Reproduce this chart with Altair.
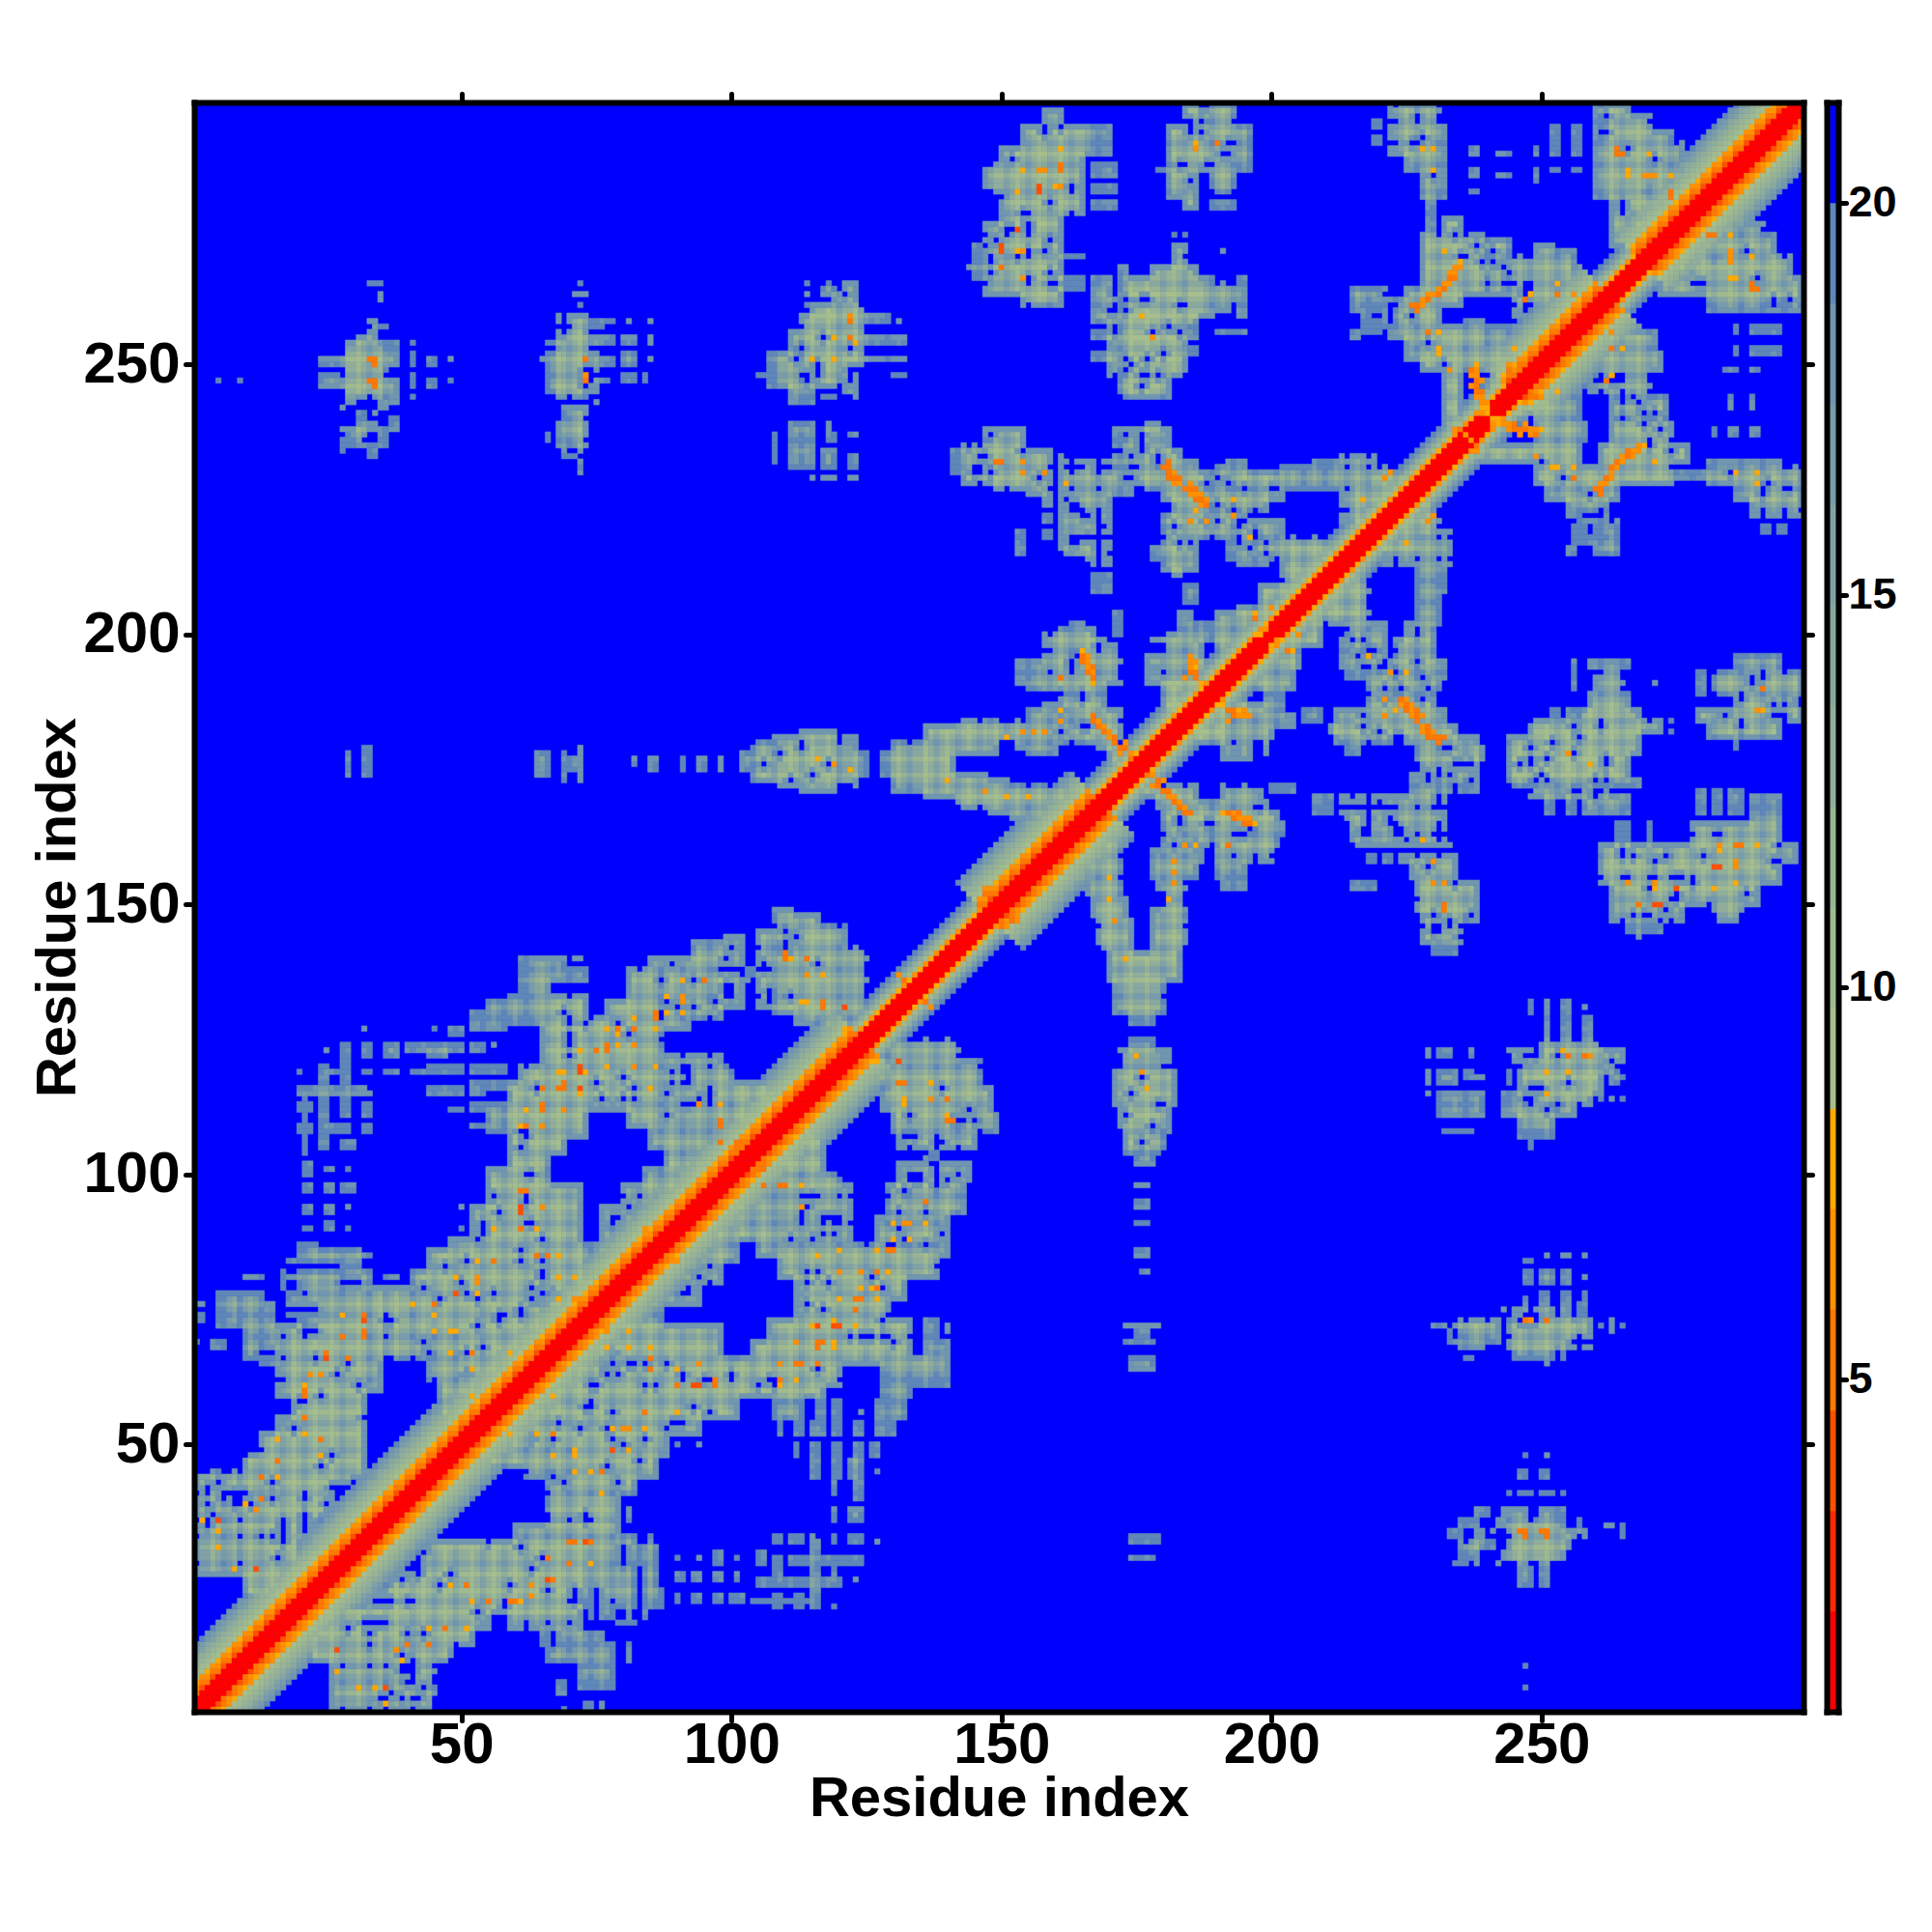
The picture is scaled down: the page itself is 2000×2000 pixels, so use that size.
import altair as alt
import numpy as np
import pandas as pd

alt.data_transformers.disable_max_rows()

# colour levels, bottom of the colour bar to the top
LEVEL_COLOURS = ["#ff0000", "#ff2a00", "#ff5000", "#ff7800", "#ff9000", "#ffaa00",
                 "#a6bf8c", "#a0ba90", "#98b495", "#90ae9a", "#88a89f", "#80a2a5",
                 "#789cab", "#7096b0", "#5f87b8", "#0000ff"]
LEVEL_EDGES = [0.757, 2.04, 3.32, 4.60, 5.89, 7.17, 8.45, 9.74, 11.02, 12.30, 13.59,
               14.87, 16.15, 17.43, 18.72, 20.0, 21.28]
BLUE = 15

# regions of the map right of the diagonal: (y0, y1, x0, x1, level); the map is symmetric
BLOB_NEAR_35 = [(48,48,247,247,13),(48,48,251,251,13),(44,45,246,247,13),(44,45,250,251,13),
 (41,41,244,244,13),(41,41,246,248,13),(41,41,250,252,13),(41,41,254,254,13),(37,38,238,240,13),
 (37,38,243,247,11),(37,38,250,251,11),(37,38,252,254,13),(35,36,235,238,13),(35,36,242,254,10),
 (35,36,257,257,13),(33,34,233,235,13),(33,34,238,241,11),(33,34,244,258,9),(31,32,235,239,11),
 (31,32,240,241,13),(31,32,244,255,9),(29,30,235,238,12),(29,30,243,254,9),(28,28,234,236,12),
 (28,28,238,254,11),(24,27,246,248,12),(24,27,250,251,12),(9,9,247,247,13),(5,5,247,247,13),
 (35,35,262,263,13),(33,35,265,265,12)]
BLOB_NEAR_72 = [(85,85,251,251,13),(85,85,254,255,13),(85,85,258,258,13),(84,84,247,248,13),
 (80,82,247,248,13),(80,82,250,252,13),(80,82,254,255,13),(81,81,258,258,13),(77,78,250,251,13),
 (77,78,254,255,13),(77,78,258,258,13),(75,77,247,247,13),(75,77,250,251,13),(75,77,254,255,13),
 (75,76,257,258,13),(74,75,243,249,11),(74,75,250,255,11),(74,75,257,258,12),(73,73,235,242,11),
 (73,73,244,245,10),(73,73,250,259,10),(72,72,230,232,13),(72,72,234,242,10),(72,72,244,259,9),
 (72,72,261,261,13),(71,73,263,263,13),(72,72,265,265,13),(70,71,233,233,13),(70,71,235,242,10),
 (70,71,244,259,9),(69,69,233,234,13),(69,69,235,239,11),(69,69,240,242,13),(69,69,244,255,9),
 (68,68,235,239,12),(68,68,244,256,10),(68,68,258,259,13),(66,67,245,248,12),(66,67,249,252,12),
 (66,67,254,254,13),(66,66,236,237,13),(65,65,251,251,13)]
BLOB_NEAR_118 = [(130,132,248,248,13),(130,132,251,251,13),(130,132,254,255,13),(131,131,258,258,13),
 (125,129,251,251,13),(125,129,254,255,12),(125,129,258,259,12),(123,125,250,261,11),
 (121,123,244,248,11),(121,123,250,265,9),(119,121,247,263,9),(117,119,244,244,13),(117,119,246,261,8),
 (117,119,263,264,12),(118,118,265,265,13),(115,117,246,261,9),(113,115,243,246,12),(113,115,249,259,9),
 (114,114,261,261,13),(114,114,263,263,13),(114,114,265,265,13),(111,113,243,256,10),(109,110,246,252,10),
 (107,108,246,250,12),(107,108,251,252,12),(106,106,248,248,13),(105,105,248,248,13)]
SPARSE_NEAR_115 = [(122,123,229,229,13),(122,123,231,232,13),(122,123,233,233,13),(122,123,237,237,13),
 (117,119,229,229,13),(117,119,231,234,12),(118,119,236,237,13),(118,118,238,239,13),(113,115,231,239,12),
 (115,115,229,229,13),(111,112,231,239,12),(108,108,232,237,13)]
COLUMN_176 = [(124,125,174,178,13),(119,123,172,181,11),(113,119,171,182,9),(108,113,172,181,9),
 (104,108,173,180,10),(102,104,175,178,12),(98,98,175,177,13),(94,95,175,177,13),(91,91,175,177,13),
 (85,86,175,177,13),(82,82,176,177,13),(72,72,173,179,12),(69,71,175,177,12),(69,69,173,178,13),
 (64,66,174,178,12),(32,33,174,179,13),(29,29,174,178,13)]
RIGHT_COLUMN = [(224,224,225,231,10),(220,223,225,231,11),(213,219,221,233,11),(208,212,212,218,11),
 (208,212,227,232,12),(202,207,210,218,11),(202,207,227,231,12),(200,202,214,221,10),(200,202,225,230,10),
 (196,199,213,221,10),(196,199,223,230,10),(194,195,213,220,11),(194,195,222,232,10),(192,193,214,220,12),
 (192,193,218,232,10),(190,191,218,231,10),(187,189,218,230,10),(184,186,206,209,12),(184,186,212,232,9),
 (182,183,211,234,9),(180,181,212,222,10),(180,181,225,238,9),(178,179,214,216,13),(177,179,227,239,10),
 (175,176,228,238,11),(171,174,226,238,10),(167,170,208,211,13),(167,170,213,232,11),(162,166,214,232,11),
 (161,161,216,233,11),(158,159,218,219,13),(158,159,221,222,13),(158,159,224,234,9),(155,157,226,234,9),
 (153,154,215,219,13),(149,154,227,238,9),(147,148,228,238,10),(143,146,228,235,11),(141,142,230,234,12)]
BLOB_NEAR_255_175 = [(194,195,256,256,13),(194,195,259,266,12),(190,193,256,256,13),(190,193,260,265,11),
 (191,191,271,271,13),(187,189,259,266,10),(185,186,252,253,12),(185,186,255,257,12),(185,186,258,268,8),
 (182,184,248,272,9),(178,181,244,268,8),(174,177,244,266,8),(172,173,244,268,10),(170,171,248,266,11),
 (167,169,251,252,13),(167,169,255,256,13),(167,169,258,266,10),(184,184,274,274,13),(182,182,274,274,13)]
BLOB_NEAR_290_188 = [(194,196,286,294,12),(189,193,279,280,13),(189,193,282,298,10),(187,188,286,297,10),
 (184,186,279,298,9),(181,183,281,294,10),(179,180,286,286,13)]
BLOB_NEAR_275_155 = [(167,171,279,280,13),(167,171,282,283,13),(167,171,285,287,13),(166,170,289,294,13),
 (162,165,264,266,13),(162,165,270,270,13),(162,165,278,294,9),(160,161,261,297,9),(158,159,261,297,8),
 (154,157,261,294,9),(150,153,263,290,9),(147,149,263,276,11),(147,149,282,287,11),(145,146,266,272,12),
 (144,144,268,268,13)]
MIDDLE_ARMS = [(170,172,176,186,9),(170,172,191,198,11),(171,172,200,204,12),(168,169,179,188,9),
 (168,169,189,200,10),(166,167,180,201,9),(163,165,180,202,10),(161,162,180,201,10),(158,160,178,187,10),
 (158,160,189,200,11),(155,157,178,186,10),(155,157,190,195,12),(153,154,179,184,11),(153,154,191,195,12),
 (150,152,180,184,11),(158,165,166,172,10),(152,157,166,172,10),(148,151,167,173,9),(148,149,178,184,10),
 (142,147,168,174,9),(142,147,178,184,9),(136,141,170,183,9),(130,135,171,180,10),(128,129,174,178,12),
 (180,187,184,198,8),(177,179,191,196,11),(198,203,198,209,9),(194,198,192,205,10),(190,193,192,204,10),
 (186,189,192,195,11),(186,189,199,202,12),(183,185,192,204,10),(180,182,192,200,11),(178,179,194,194,13),
 (178,179,199,199,13),(204,210,205,216,9),(219,227,216,229,9)]
UPPER_RIGHT = [(275,279,281,291,11),(271,274,276,293,10),(267,270,274,296,9),(263,266,272,298,9),
 (260,262,281,298,10),(256,257,286,286,13),(256,257,289,294,13),(252,253,286,286,13),(252,253,289,294,13),
 (249,249,284,286,13),(249,249,289,290,13),(242,244,285,285,13),(242,244,289,289,13),(237,238,282,282,13),
 (237,238,285,286,13),(237,238,289,290,13),(257,262,263,266,11),(253,256,262,271,10),(249,252,261,272,10),
 (245,248,259,270,11),(240,244,253,257,12),(240,244,263,273,10),(236,239,249,258,10),(236,239,263,274,9),
 (232,235,238,257,9),(232,235,261,277,9),(228,231,249,274,9),(229,230,275,280,13),(228,232,281,294,10),
 (228,231,295,298,11),(225,227,251,264,10),(225,227,286,298,10),(222,224,255,262,10),(222,224,289,298,11),
 (219,220,291,292,12),(219,220,294,295,12),(217,221,256,264,12),(215,216,255,256,13),(215,216,260,264,12),
 (240,245,244,253,9)]
LOWER_MIDDLE = [(122,125,129,142,11),(117,121,127,146,10),(112,116,128,148,9),(108,111,130,149,10),
 (105,107,131,145,11),(103,104,136,138,12),(99,102,131,144,11),(93,98,129,143,10),(93,98,105,122,10),
 (88,92,109,122,11),(88,92,127,140,10),(85,87,105,140,10),(81,84,109,138,9),(77,80,112,132,9),
 (74,76,112,129,9),(70,73,107,133,9),(70,73,136,138,13),(71,72,140,140,13),(67,69,104,133,9),
 (67,69,136,138,12),(67,69,139,140,13),(65,66,72,140,9),(61,64,72,120,9),(61,64,128,140,12),(59,60,72,117,9),
 (59,60,128,133,12),(55,58,72,101,9),(55,58,108,113,12),(55,58,116,117,13),(55,58,119,120,13),(56,56,124,124,13),
 (55,58,127,132,13),(52,54,72,94,9),(52,54,109,109,13),(52,54,112,113,12),(52,54,115,117,12),(52,54,119,120,12),
 (52,54,123,124,12),(52,54,127,130,12),(48,51,72,88,9),(50,50,90,90,13),(50,50,94,94,13),(48,50,112,112,13),
 (48,50,115,116,12),(48,50,119,120,12),(48,50,123,124,12),(48,50,126,127,12),(44,47,72,86,9),(44,47,115,116,13),
 (44,47,119,120,12),(44,47,122,124,12),(45,45,127,127,13),(41,43,72,82,10),(41,43,119,119,13),(40,43,123,124,12),
 (34,40,72,79,9),(36,38,81,81,13),(36,38,119,119,13),(36,38,122,124,12),(32,33,72,82,10),(32,33,85,85,12),
 (32,33,108,109,13),(32,33,111,113,12),(32,33,115,116,11),(32,33,119,119,13),(32,33,122,124,12),(32,32,127,127,13),
 (28,31,72,79,10),(28,31,81,86,12),(29,29,90,90,13),(29,29,94,94,13),(28,30,97,98,13),(29,29,101,101,13),
 (28,30,105,106,13),(28,29,108,109,12),(28,29,111,124,12),(30,31,115,116,12),(24,27,72,79,11),
 (24,27,80,82,12),(24,27,84,86,12),(25,26,90,91,13),(25,26,93,94,13),(25,26,97,98,13),(25,26,101,101,13),
 (24,25,105,120,12),(26,27,108,109,13),(26,27,115,116,12),(26,27,119,119,13),(25,25,123,123,13),
 (20,23,72,74,12),(20,23,76,82,12),(20,23,84,87,12),(21,22,90,90,13),
 (21,22,93,94,13),(21,22,97,98,13),(21,22,100,102,13),(21,21,104,116,12),(20,22,108,109,13),(20,22,112,113,13),
 (20,23,115,116,12),(20,20,119,119,13),(18,19,74,74,13),
 (18,19,76,78,13),(18,19,81,81,13),(18,19,84,84,13),(17,17,79,82,13),(10,13,73,78,12),(10,13,81,81,13),
 (5,9,72,78,12),(1,2,73,74,12),(1,2,76,76,13)]
LOWER_LEFT = [(101,108,90,117,9),(98,100,102,120,10),(93,97,101,122,11),(88,92,95,108,10),(84,87,92,101,10),
 (80,83,90,98,11),(76,79,85,94,11),(73,75,80,87,12),(67,72,75,98,9),(66,66,100,101,12),(62,66,48,72,9),
 (58,61,52,72,9),(54,57,64,72,9),(50,53,57,72,9),(46,49,53,72,10),(44,45,62,72,10),(42,43,66,72,10),
 (38,41,66,72,10),(36,37,66,72,11),(33,35,60,72,10),(30,32,44,72,9),(27,29,43,72,9),(24,26,37,72,9),
 (21,23,33,70,9),(21,23,76,81,11),(19,20,25,72,9),(16,18,24,55,9),(16,18,58,72,11),(13,15,19,52,9),
 (13,15,65,66,12),(13,15,68,76,12),(10,12,16,48,10),(10,12,66,76,12),(7,9,26,45,11),(4,6,26,45,10),
 (4,6,68,69,13),(1,3,26,45,11),(1,1,69,69,13),(1,1,73,74,13),(1,1,76,76,13)]

# blue cells inside the regions: (x, y)
HOLES = [(107,98),(114,94),(115,96),(118,92),(119,92),(117,92),(113,92),(111,88),(115,88),(117,89),(119,89),
 (114,82),(116,82),(114,80),(118,80),(114,76),(117,75),(128,73),(130,75),(122,70),(124,70),(125,70),(126,70),
 (128,70),(130,69),(116,64),(105,61),(107,62),(108,61),(128,79),(126,81),(130,87),(132,88),(136,87),(131,90),
 (136,93),(139,89),(131,93),(132,97),(135,99),(134,99),(138,98),(140,99),(138,102),(84,76),(80,75),(80,77),
 (77,80),(75,80),(76,84),(93,87),(94,85),(93,83),(89,81),(94,81),(90,78),(92,79),(78,65),(76,65),(81,65),
 (84,65),(88,65),(91,63),(95,62),(100,63),(84,61),(86,61),(75,61),(79,63),(78,56),(96,56),(93,57),(77,53),
 (80,50),(78,51),(84,51),(77,46),(83,47),(79,43),(89,54),(90,54),(91,54),(88,53),(73,36),(73,37),(77,63),(78,67),
 (82,65),(76,65),(74,61),(75,61),(73,57),(74,57),(68,54),(72,53),(63,51),(67,51),(83,47),(67,44),(69,43),
 (73,36),(61,31),(55,32),(65,29),(63,27),(39,25),(42,26),(48,26),(46,24),(59,24),(66,23),(34,21),(35,21),(36,21),
 (37,21),(40,21),(32,17),(33,17),(34,17),(35,17),(36,17),(29,16),(33,15),(40,15),(43,15),(33,13),(39,11),(41,10),
 (22,10),(19,11),(48,10),(51,9),(39,8),(40,8),(41,8),(40,6),(43,5),(37,4),(42,3),(39,3),(35,3),(58,20),(53,19),
 (58,18),(215,199),(217,199),(218,197),(219,197),(216,196),(222,196),(227,200),(227,195),(217,194),(220,194),
 (223,193),(228,192),(221,190),(224,190),(229,190),(221,188),(228,188),(217,185),(217,183),(220,182),(232,179),
 (233,179),(234,176),(235,176),(237,176),(229,173),(229,174),(231,174),(233,174),(237,173),(234,171),(234,172),
 (231,170),(230,168),(215,170),(215,171),(218,170),(220,169),(221,168),(216,168),(217,168),(218,168),(218,166),
 (222,165),(222,166),(223,164),(224,164),(217,163),(217,164),(231,163),(231,164),(225,162),(229,157),(234,154),
 (230,148),(237,148),(230,145),(233,147),(235,144),(252,180),(256,183),(261,183),(257,181),(256,178),(248,179),
 (246,176),(248,176),(248,177),(251,177),(260,173),(262,173),(262,176),(262,177),(250,174),(249,173),(251,173),
 (263,171),(264,171),(266,171),(256,171),(260,171),(260,170),(266,155),(271,155),(273,159),(271,158),(265,159),
 (265,160),(267,159),(275,155),(276,155),(270,153),(275,151),(275,152),(273,149),(267,148),(269,148),(272,147),
 (278,154),(280,159),(281,150),(288,152),(293,158),(294,158),(283,163),(294,161),(287,188),(289,191),(289,192),
 (291,192),(293,185),(294,185),(295,185),(284,185),(287,183),(293,187),(295,187),(248,116),(249,116),(250,116),
 (255,117),(253,113),(251,112),(249,122),(247,122),(253,122),(263,121),(128,116),(133,111),(139,116),(141,110),
 (142,110),(143,110),(138,106),(139,106),(134,107),(132,107),(145,110),(144,112),(136,104),(137,102),(138,102),
 (200,168),(198,168),(200,169),(196,164),(194,163),(195,163),(188,165),(189,165),(183,165),(183,166),(182,161),
 (186,161),(189,161),(187,157),(279,273),(280,273),(277,271),(282,270),(288,271),(275,266),(275,267),(277,267),
 (279,265),(280,265),(290,266),(293,261),(293,262),(296,262),(284,277),(285,277),(286,277),(288,277),(289,277),
 (290,277),(263,260),(259,247),(260,247),(263,247),(264,247),(265,243),(265,244),(267,244),(268,243),(269,241),
 (269,239),(265,240),(271,241),(272,238),(270,235),(274,234),(250,232),(254,229),(258,232),(259,226),(248,231),
 (285,230),(292,228),(291,226),(296,227),(258,222),(259,222),(260,222),(256,221),(261,222),(263,221),(263,222),
 (259,219),(259,220),(176,118),(174,115),(179,113),(173,111),(178,109),(176,106)]

# residues whose rows and columns read greener or steelier across the map
GREEN_RESIDUES = [4,8,11,15,19,23,26,31,35,38,43,47,52,56,60,64,68,72,76,81,85,89,94,98,102,106,111,115,118,123,
 127,131,136,140,144,149,153,157,161,166,170,174,177,182,187,191,195,199,204,208,212,216,221,225,229,234,238,242,
 246,251,255,259,263,268,272,276,280,285,289,293,297]
STEEL_RESIDUES = [6,9,13,17,21,28,33,36,41,45,49,54,58,62,66,70,74,78,83,87,91,96,100,104,108,113,120,125,129,133,
 138,142,146,151,155,159,163,168,172,180,184,189,193,197,201,206,210,214,218,223,227,231,236,240,244,248,253,257,
 261,265,270,274,278,282,287,291,295]

# width of the diagonal band, by offset from the diagonal, for odd and even residues
WIDE_ODD = [0,0,0,3,4,5,6,7,8,9,10,12,13]
WIDE_EVEN = [0,0,0,2,3,4,6,7,8,9,11,12,14]
THIN_ODD = [0,0,0,5,7,9,12,14]
THIN_EVEN = [0,0,0,4,7,9,12,14]
BAND_SEGMENTS = [(1,124,"wide"),(125,147,"thin"),(148,168,"wide"),(169,244,"thin"),
                 (245,262,"wide"),(263,268,"thin"),(269,298,"wide")]

# single cells that stand out: (x, y, level)
HOT = [(70,32,3),(71,32,3),(73,32,3),(74,32,3),(66,29,3),(70,28,3),(74,28,5),(66,25,2),(67,25,3),(63,24,4),(59,21,3),
 (60,21,3),(61,21,5),(63,22,4),(52,21,5),(55,21,3),(48,24,5),(51,24,3),(44,13,3),(40,13,3),(38,12,4),(39,10,5),
 (27,12,2),(27,8,5),(36,5,2),(34,5,5),(31,5,5),(36,2,5),(47,16,3),(51,16,5),(44,16,5),(80,53,4),(84,53,5),(78,49,2),
 (81,49,5),(71,48,5),(71,49,5),(67,48,5),(76,45,3),(71,45,5),(74,45,5),(76,41,5),(84,56,3),(85,68,5),(85,66,3),(77,68,5),
 (81,68,5),(59,67,5),(48,67,5),(52,67,3),(59,52,5),(64,52,5),(67,52,3),(68,77,5),(71,81,5),(68,81,5),(109,98,3),(110,98,3),
 (106,98,3),(113,98,5),(113,94,4),(136,95,3),(130,91,5),(132,91,4),(133,91,4),(136,91,5),(133,88,5),(130,88,5),(129,86,3),
 (130,86,3),(127,86,5),(120,86,5),(116,85,5),(120,82,4),(124,82,4),(127,82,3),(129,82,5),(124,79,5),(126,79,5),(127,79,3),
 (123,77,3),(124,77,3),(120,77,5),(127,77,5),(123,75,3),(116,72,2),(115,72,5),(119,72,2),(120,72,2),(119,73,5),(123,72,5),
 (116,69,3),(117,69,3),(116,68,3),(119,68,5),(119,69,5),(112,69,4),(112,65,3),(113,65,3),(116,65,3),(109,65,4),(109,62,3),
 (109,61,5),(112,62,5),(97,61,3),(97,62,3),(93,61,2),(94,61,2),(90,61,3),(85,64,3),(90,64,5),(94,65,4),(84,56,3),(90,56,5),
 (81,53,4),(78,53,5),(76,45,3),(73,32,2),(74,28,5),(77,71,4),(81,71,5),(90,84,4),(131,117,3),(132,117,3),(127,121,5),
 (131,121,2),(137,117,5),(137,114,4),(140,114,3),(132,113,5),(132,114,5),(140,110,3),(141,110,3),(140,111,5),(105,101,3),
 (106,101,3),(105,102,3),(152,147,3),(153,147,4),(136,132,3),(137,131,4),(246,34,3),(247,34,3),(247,33,3),(250,34,3),
 (251,33,3),(251,34,3),(247,73,3),(248,73,4),(251,73,3),(254,123,5),(255,122,3),(258,122,3),(259,122,4),(251,119,5),
 (255,119,5),(251,115,5),(176,119,4),(177,116,5),(175,122,5),(218,196,5),(222,193,4),(225,193,5),(221,185,4),(228,162,5),
 (230,158,4),(230,154,4),(232,154,4),(232,150,3),(232,149,3),(224,188,3),(225,187,3),(226,186,4),(227,185,3),(228,183,4),
 (229,182,3),(230,181,3),(231,180,3),(232,181,3),(223,186,5),(221,188,4),(192,186,3),(193,185,3),(194,186,5),(195,185,4),
 (192,184,4),(177,174,3),(179,173,3),(180,171,3),(181,170,4),(182,169,3),(183,168,3),(184,167,3),(178,172,4),(192,167,3),
 (193,166,3),(194,166,4),(195,165,3),(196,165,3),(184,161,4),(186,161,5),(192,161,3),(170,155,5),(170,151,5),(171,147,4),
 (173,140,5),(182,158,4),(182,156,4),(182,154,4),(181,151,5),(255,178,4),(259,176,5),(291,190,3),(290,186,4),(291,186,5),
 (266,154,4),(271,154,4),(271,153,5),(275,153,2),(268,150,3),(271,150,2),(272,150,2),(283,161,4),(283,160,5),(286,161,3),
 (287,161,3),(290,161,5),(282,157,2),(283,157,2),(286,157,4),(286,158,4),(282,153,5),(286,154,5),(281,274,3),(282,274,3),
 (285,274,5),(285,271,4),(285,270,4),(285,269,4),(289,270,5),(285,266,5),(286,266,5),(289,265,3),(289,264,3),(290,264,3),
 (263,256,4),(263,253,3),(265,253,5),(268,235,4),(267,233,4),(266,233,3),(265,232,4),(263,231,3),(263,230,4),(262,229,3),
 (261,228,4),(260,227,3),(261,226,3),(271,232,5),(252,231,5),(253,231,5),(256,231,5),(256,229,3),(286,230,5),(290,230,5),
 (290,228,5),(243,239,4),(244,238,4),(245,238,3),(246,238,3),(247,239,4),(248,237,4),(249,237,3),(250,238,5),(238,241,4),
 (239,241,4),(237,236,4),(238,235,3),(238,234,4),(249,246,3),(249,244,3),(250,244,4),(253,245,5),(249,233,4),(262,247,3),
 (263,248,5),(200,198,5),(201,199,4),(203,197,3),(199,196,4),(204,197,5),(205,200,4),(229,221,4),(230,222,4),(225,217,5)]
# the thick orange streaks that leave the diagonal
STREAK_CELLS = [(178,174,4),(180,173,4),(181,171,3),(182,170,4),(183,169,4),(184,168,4),(185,167,3),(179,172,3),
 (225,188,4),(226,187,4),(227,186,3),(228,185,4),(229,183,3),(230,182,4),(231,181,3),(224,187,4),(225,186,3),
 (226,185,4),(227,184,3),(228,182,4),(229,181,3),(193,167,4),(194,167,3),(195,166,4),(196,166,4),(197,165,5),
 (191,167,5),(193,186,3),(194,185,4),(196,185,4),(195,186,4),(191,187,5),(190,187,5),(267,234,4),(266,234,3),
 (265,233,4),(264,232,3),(264,231,4),(263,229,4),(262,228,4),(261,227,3),(268,234,4),(269,235,5),(244,239,4),
 (245,239,3),(246,237,4),(247,238,3),(248,238,4),(249,238,4),(242,240,5),(241,240,5)]

TICKS = [50, 100, 150, 200, 250]
BAR_TICKS = [5, 10, 15, 20]
TITLE = "Residue index"
FONT = "Liberation Sans"

N = 298
grid = np.full((N + 2, N + 2), BLUE, dtype=int)   # one spare line on each side, indexed by residue

regions = (BLOB_NEAR_35 + BLOB_NEAR_72 + BLOB_NEAR_118 + SPARSE_NEAR_115 + COLUMN_176 + RIGHT_COLUMN
           + BLOB_NEAR_255_175 + BLOB_NEAR_290_188 + BLOB_NEAR_275_155 + MIDDLE_ARMS + UPPER_RIGHT
           + LOWER_MIDDLE + LOWER_LEFT)
for y0, y1, x0, x1, lv in regions:
    grid[y0:y1 + 1, x0:x1 + 1] = lv
    grid[x0:x1 + 1, y0:y1 + 1] = lv
for x, y in HOLES:
    grid[y, x] = BLUE
    grid[x, y] = BLUE

tone = np.zeros(N + 2, dtype=int)
tone[GREEN_RESIDUES] = -2
tone[STEEL_RESIDUES] = 2
cool = grid != BLUE
blue_near = np.zeros_like(cool)
blue_near[1:-1, 1:-1] = (~cool[:-2, 1:-1] | ~cool[2:, 1:-1] | ~cool[1:-1, :-2] | ~cool[1:-1, 2:])
shaded = grid + tone[:, None] + tone[None, :] + 2 * blue_near
eroded = cool & (grid < 12) & (shaded > 14)
shaded = np.clip(shaded, 6, 14)
shaded = np.where(blue_near, np.maximum(shaded, 13), shaded)
grid = np.where(cool & ~eroded, shaded, BLUE)

segment_of = {}
for a, b, name in BAND_SEGMENTS:
    for i in range(a, b + 1):
        segment_of[i] = name
profiles = {"wide": (WIDE_EVEN, WIDE_ODD), "thin": (THIN_EVEN, THIN_ODD)}
for x in range(1, N + 1):
    for y in range(1, N + 1):
        off = abs(x - y)
        if off > 13:
            continue
        even, odd = profiles[segment_of[(x + y) // 2]]
        prof = odd if min(x, y) % 2 else even
        if off < len(prof):
            grid[y, x] = min(grid[y, x], prof[off])
for x, y, lv in HOT + STREAK_CELLS:
    grid[y, x] = lv
    grid[x, y] = lv

# join neighbouring cells of one row that share a level
rows = []
for y in range(1, N + 1):
    x = 1
    while x <= N:
        lv = grid[y, x]
        end = x
        while end < N and grid[y, end + 1] == lv:
            end += 1
        if lv != BLUE:
            rows.append({"x0": x - 0.5, "x1": end + 0.5, "y0": y - 0.5, "y1": y + 0.5, "level": int(lv)})
        x = end + 1

PX = 1666
xs = alt.Scale(domain=[0.5, 298.5], nice=False, zero=False)
colour_scale = alt.Scale(domain=list(range(16)), range=LEVEL_COLOURS)
colour = alt.Color("level:O", legend=None, scale=colour_scale)
edge = alt.Stroke("level:O", legend=None, scale=colour_scale)

axis_base = dict(values=TICKS, domainWidth=6, domainColor="black", domainCap="square", tickColor="black",
                 tickWidth=5, tickSize=9, tickCap="round", grid=False, zindex=2)
ax_bottom = alt.Axis(orient="bottom", title=TITLE, labelFont=FONT, labelFontWeight="bold", labelFontSize=60,
                     titleFont=FONT, titleFontWeight="bold", titleFontSize=58, labelPadding=-4, titlePadding=-3,
                     labelColor="black", titleColor="black", **axis_base)
ax_left = alt.Axis(orient="left", title=TITLE, labelFont=FONT, labelFontWeight="bold", labelFontSize=60,
                   titleFont=FONT, titleFontWeight="bold", titleFontSize=58, labelPadding=6, titlePadding=-4,
                   labelColor="black", titleColor="black", **axis_base)
ax_top = alt.Axis(orient="top", title=None, labels=False, **axis_base)
ax_right = alt.Axis(orient="right", title=None, labels=False, **axis_base)


def layer(data, xaxis, yaxis):
    return alt.Chart(pd.DataFrame(data)).mark_rect(strokeWidth=0.6).encode(
        x=alt.X("x0:Q", scale=xs, axis=xaxis),
        x2="x1:Q",
        y=alt.Y("y0:Q", scale=xs, axis=yaxis),
        y2="y1:Q",
        color=colour,
        stroke=edge,
    )


main = alt.layer(
    layer(rows, ax_bottom, ax_left),
    layer(rows[:1], ax_top, ax_right),
).resolve_axis(x="independent", y="independent").properties(width=PX, height=PX)

bar_rows = [{"b0": LEVEL_EDGES[i], "b1": LEVEL_EDGES[i + 1], "level": i, "u0": 0, "u1": 1} for i in range(16)]
bar_scale = alt.Scale(domain=[LEVEL_EDGES[0], LEVEL_EDGES[-1]], nice=False, zero=False)
line = dict(domainWidth=6, domainColor="black", domainCap="square", grid=False, title=None, labels=False,
            ticks=False, zindex=2)
bar_df = pd.DataFrame(bar_rows)
bar_a = alt.Chart(bar_df).mark_rect(strokeWidth=0.6).encode(
    x=alt.X("u0:Q", scale=alt.Scale(domain=[0, 1], nice=False), axis=alt.Axis(orient="bottom", **line)),
    x2="u1:Q",
    y=alt.Y("b0:Q", scale=bar_scale, axis=alt.Axis(orient="left", **line)),
    y2="b1:Q",
    color=colour,
    stroke=edge,
)
bar_b = alt.Chart(bar_df).mark_rect(strokeWidth=0.6).encode(
    x=alt.X("u0:Q", scale=alt.Scale(domain=[0, 1], nice=False), axis=alt.Axis(orient="top", **line)),
    x2="u1:Q",
    y=alt.Y("b0:Q", scale=bar_scale, axis=alt.Axis(
        orient="right", values=BAR_TICKS, title=None, domainWidth=6, domainColor="black", domainCap="square",
        tickColor="black", tickWidth=5, tickSize=8, tickCap="round", grid=False, zindex=2, labelFont=FONT,
        labelFontWeight="bold", labelFontSize=45, labelColor="black", labelPadding=2)),
    y2="b1:Q",
    color=colour,
    stroke=edge,
)
bar = alt.layer(bar_a, bar_b).resolve_axis(x="independent", y="independent").properties(width=12, height=PX)

chart = alt.hconcat(main, bar, spacing=11).configure_view(fill="#0000ff", stroke=None).properties(
    background="white", padding={"left": 23, "top": 86, "right": 5, "bottom": 5})
chart.save("out.html", embed_options={"renderer": "svg", "actions": False})
